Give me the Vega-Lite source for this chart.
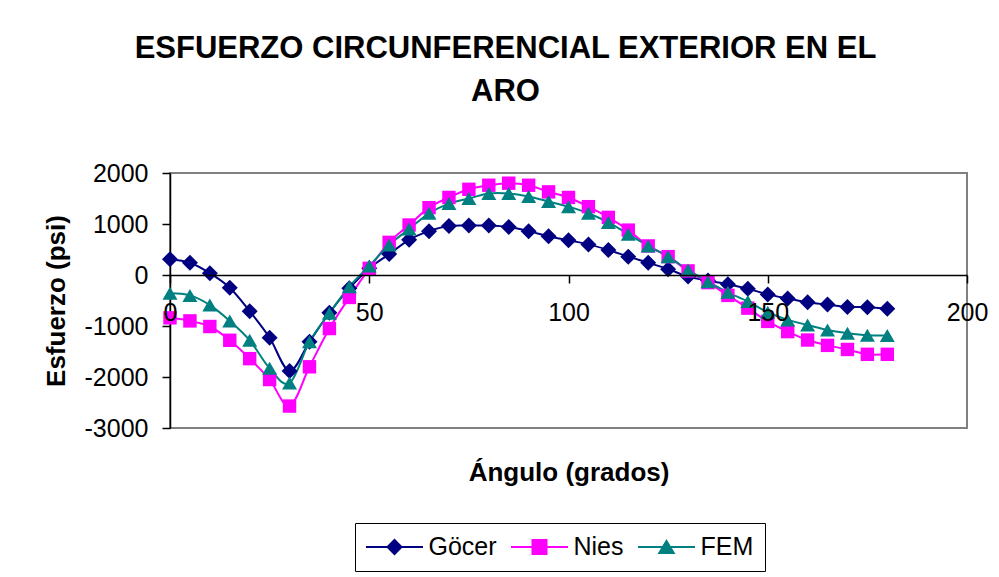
{
  "$schema": "https://vega.github.io/schema/vega-lite/v6.json",
  "width": 797,
  "height": 255,
  "autosize": {"type": "none"},
  "padding": {"left": 170, "top": 173, "right": 32, "bottom": 149},
  "background": "white",
  "title": {
    "text": ["ESFUERZO CIRCUNFERENCIAL EXTERIOR EN EL", "ARO"],
    "anchor": "middle",
    "frame": "group",
    "dx": -63,
    "baseline": "bottom",
    "offset": 22,
    "lineHeight": 43,
    "font": "Liberation Sans",
    "fontSize": 31,
    "fontWeight": "bold",
    "color": "black"
  },
  "data": {
    "values": [
      {"angle": 0, "series": "Göcer", "value": 310}, {"angle": 5, "series": "Göcer", "value": 240}, {"angle": 10, "series": "Göcer", "value": 35}, {"angle": 15, "series": "Göcer", "value": -250}, {"angle": 20, "series": "Göcer", "value": -710}, {"angle": 25, "series": "Göcer", "value": -1230}, {"angle": 30, "series": "Göcer", "value": -1880}, {"angle": 35, "series": "Göcer", "value": -1310}, {"angle": 40, "series": "Göcer", "value": -740}, {"angle": 45, "series": "Göcer", "value": -260}, {"angle": 50, "series": "Göcer", "value": 130}, {"angle": 55, "series": "Göcer", "value": 410}, {"angle": 60, "series": "Göcer", "value": 690}, {"angle": 65, "series": "Göcer", "value": 860}, {"angle": 70, "series": "Göcer", "value": 960}, {"angle": 75, "series": "Göcer", "value": 970}, {"angle": 80, "series": "Göcer", "value": 970}, {"angle": 85, "series": "Göcer", "value": 940}, {"angle": 90, "series": "Göcer", "value": 860}, {"angle": 95, "series": "Göcer", "value": 760}, {"angle": 100, "series": "Göcer", "value": 680}, {"angle": 105, "series": "Göcer", "value": 600}, {"angle": 110, "series": "Göcer", "value": 490}, {"angle": 115, "series": "Göcer", "value": 360}, {"angle": 120, "series": "Göcer", "value": 240}, {"angle": 125, "series": "Göcer", "value": 115}, {"angle": 130, "series": "Göcer", "value": -30}, {"angle": 135, "series": "Göcer", "value": -110}, {"angle": 140, "series": "Göcer", "value": -180}, {"angle": 145, "series": "Göcer", "value": -270}, {"angle": 150, "series": "Göcer", "value": -380}, {"angle": 155, "series": "Göcer", "value": -460}, {"angle": 160, "series": "Göcer", "value": -535}, {"angle": 165, "series": "Göcer", "value": -580}, {"angle": 170, "series": "Göcer", "value": -625}, {"angle": 175, "series": "Göcer", "value": -630}, {"angle": 180, "series": "Göcer", "value": -660},
      {"angle": 0, "series": "Nies", "value": -840}, {"angle": 5, "series": "Nies", "value": -900}, {"angle": 10, "series": "Nies", "value": -1010}, {"angle": 15, "series": "Nies", "value": -1280}, {"angle": 20, "series": "Nies", "value": -1640}, {"angle": 25, "series": "Nies", "value": -2050}, {"angle": 30, "series": "Nies", "value": -2570}, {"angle": 35, "series": "Nies", "value": -1800}, {"angle": 40, "series": "Nies", "value": -1050}, {"angle": 45, "series": "Nies", "value": -440}, {"angle": 50, "series": "Nies", "value": 130}, {"angle": 55, "series": "Nies", "value": 640}, {"angle": 60, "series": "Nies", "value": 980}, {"angle": 65, "series": "Nies", "value": 1320}, {"angle": 70, "series": "Nies", "value": 1520}, {"angle": 75, "series": "Nies", "value": 1680}, {"angle": 80, "series": "Nies", "value": 1760}, {"angle": 85, "series": "Nies", "value": 1800}, {"angle": 90, "series": "Nies", "value": 1760}, {"angle": 95, "series": "Nies", "value": 1630}, {"angle": 100, "series": "Nies", "value": 1520}, {"angle": 105, "series": "Nies", "value": 1340}, {"angle": 110, "series": "Nies", "value": 1130}, {"angle": 115, "series": "Nies", "value": 880}, {"angle": 120, "series": "Nies", "value": 570}, {"angle": 125, "series": "Nies", "value": 360}, {"angle": 130, "series": "Nies", "value": 80}, {"angle": 135, "series": "Nies", "value": -150}, {"angle": 140, "series": "Nies", "value": -400}, {"angle": 145, "series": "Nies", "value": -650}, {"angle": 150, "series": "Nies", "value": -910}, {"angle": 155, "series": "Nies", "value": -1110}, {"angle": 160, "series": "Nies", "value": -1275}, {"angle": 165, "series": "Nies", "value": -1380}, {"angle": 170, "series": "Nies", "value": -1460}, {"angle": 175, "series": "Nies", "value": -1555}, {"angle": 180, "series": "Nies", "value": -1555},
      {"angle": 0, "series": "FEM", "value": -360}, {"angle": 5, "series": "FEM", "value": -400}, {"angle": 10, "series": "FEM", "value": -590}, {"angle": 15, "series": "FEM", "value": -900}, {"angle": 20, "series": "FEM", "value": -1280}, {"angle": 25, "series": "FEM", "value": -1830}, {"angle": 30, "series": "FEM", "value": -2120}, {"angle": 35, "series": "FEM", "value": -1310}, {"angle": 40, "series": "FEM", "value": -750}, {"angle": 45, "series": "FEM", "value": -230}, {"angle": 50, "series": "FEM", "value": 175}, {"angle": 55, "series": "FEM", "value": 590}, {"angle": 60, "series": "FEM", "value": 900}, {"angle": 65, "series": "FEM", "value": 1210}, {"angle": 70, "series": "FEM", "value": 1400}, {"angle": 75, "series": "FEM", "value": 1500}, {"angle": 80, "series": "FEM", "value": 1600}, {"angle": 85, "series": "FEM", "value": 1600}, {"angle": 90, "series": "FEM", "value": 1540}, {"angle": 95, "series": "FEM", "value": 1440}, {"angle": 100, "series": "FEM", "value": 1340}, {"angle": 105, "series": "FEM", "value": 1210}, {"angle": 110, "series": "FEM", "value": 1030}, {"angle": 115, "series": "FEM", "value": 800}, {"angle": 120, "series": "FEM", "value": 570}, {"angle": 125, "series": "FEM", "value": 360}, {"angle": 130, "series": "FEM", "value": 100}, {"angle": 135, "series": "FEM", "value": -130}, {"angle": 140, "series": "FEM", "value": -340}, {"angle": 145, "series": "FEM", "value": -520}, {"angle": 150, "series": "FEM", "value": -730}, {"angle": 155, "series": "FEM", "value": -880}, {"angle": 160, "series": "FEM", "value": -980}, {"angle": 165, "series": "FEM", "value": -1080}, {"angle": 170, "series": "FEM", "value": -1140}, {"angle": 175, "series": "FEM", "value": -1180}, {"angle": 180, "series": "FEM", "value": -1185}
    ]
  },
  "encoding": {
    "x": {
      "field": "angle", "type": "quantitative",
      "scale": {"domain": [0, 200], "nice": false, "zero": false},
      "axis": {
        "title": "Ángulo (grados)",
        "values": [0, 50, 100, 150, 200],
        "labelExpr": "'' + datum.value",
        "offset": -153,
        "zindex": 1,
        "grid": false,
        "domainColor": "black", "domainWidth": 1.5,
        "tickColor": "black", "tickSize": 8, "tickWidth": 1.5,
        "labelFont": "Liberation Sans", "labelFontSize": 25, "labelColor": "black",
        "labelPadding": 17, "labelFlush": false, "labelOverlap": false,
        "titleFont": "Liberation Sans", "titleFontSize": 26, "titleFontWeight": "bold", "titleColor": "black",
        "titlePadding": 134
      }
    },
    "y": {
      "field": "value", "type": "quantitative",
      "scale": {"domain": [-3000, 2000], "nice": false, "zero": false},
      "axis": {
        "title": "Esfuerzo (psi)",
        "values": [-3000, -2000, -1000, 0, 1000, 2000],
        "labelExpr": "'' + datum.value",
        "grid": false,
        "domainColor": "black", "domainWidth": 1.5,
        "tickColor": "black", "tickSize": 8, "tickWidth": 1.5,
        "labelFont": "Liberation Sans", "labelFontSize": 25, "labelColor": "black",
        "labelPadding": 14, "labelOverlap": false,
        "titleFont": "Liberation Sans", "titleFontSize": 26, "titleFontWeight": "bold", "titleColor": "black",
        "titlePadding": 15
      }
    }
  },
  "layer": [
    {
      "mark": {"type": "line", "strokeWidth": 2, "interpolate": "cardinal"},
      "encoding": {
        "color": {
          "field": "series", "type": "nominal",
          "scale": {"domain": ["Göcer", "Nies", "FEM"], "range": ["#000080", "#FF00FF", "#008080"]},
          "legend": {
            "title": null,
            "orient": "none",
            "legendX": 185,
            "legendY": 350,
            "direction": "horizontal",
            "strokeColor": "black",
            "padding": 11,
            "symbolSize": 576,
            "symbolOffset": 15.5,
            "symbolStrokeWidth": 2,
            "labelOffset": 21,
            "columnPadding": 10,
            "labelFont": "Liberation Sans",
            "labelFontSize": 25,
            "labelColor": "black",
            "labelLimit": 0,
            "encode": {
              "symbols": {
                "update": {
                  "shape": {"signal": "datum.value === 'Göcer' ? 'M-2.375,0H2.375M0,-0.583L0.583,0L0,0.583L-0.583,0Z' : datum.value === 'Nies' ? 'M-2.375,0H2.375M-0.583,-0.583H0.583V0.583H-0.583Z' : 'M-2.375,0H2.375M0,-0.5L0.6,0.5H-0.6Z'"},
                  "fill": {"signal": "datum.value === 'Göcer' ? '#000080' : datum.value === 'Nies' ? '#FF00FF' : '#008080'"},
                  "stroke": {"signal": "datum.value === 'Göcer' ? '#000080' : datum.value === 'Nies' ? '#FF00FF' : '#008080'"},
                  "fillOpacity": {"value": 1},
                  "strokeWidth": {"value": 2},
                  "opacity": {"value": 1}
                }
              }
            }
          }
        }
      }
    },
    {
      "transform": [{"filter": "datum.series === 'Göcer'"}],
      "mark": {"type": "point", "shape": "diamond", "size": 256, "filled": true, "opacity": 1},
      "encoding": {"color": {"field": "series", "type": "nominal", "legend": null}}
    },
    {
      "transform": [{"filter": "datum.series === 'Nies'"}],
      "mark": {"type": "point", "shape": "square", "size": 180, "filled": true, "opacity": 1},
      "encoding": {"color": {"field": "series", "type": "nominal", "legend": null}}
    },
    {
      "transform": [{"filter": "datum.series === 'FEM'"}],
      "mark": {"type": "point", "shape": "triangle-up", "size": 225, "filled": true, "opacity": 1},
      "encoding": {"color": {"field": "series", "type": "nominal", "legend": null}}
    }
  ],
  "config": {
    "font": "Liberation Sans",
    "view": {"stroke": "#808080", "strokeWidth": 2}
  }
}
